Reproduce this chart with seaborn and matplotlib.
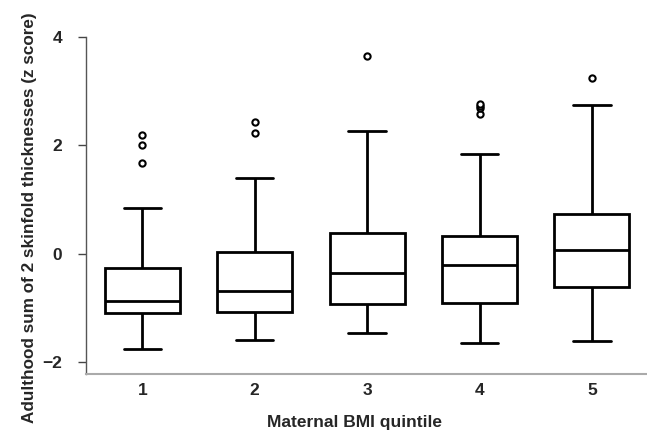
import matplotlib
matplotlib.use("Agg")
import matplotlib.pyplot as plt
import seaborn as sns
import pandas as pd

# Values (z scores)
quintiles = ["1", "2", "3", "4", "5"]
lower_whisker = [-1.76, -1.59, -1.46, -1.65, -1.61]
q1_values = [-1.10, -1.07, -0.92, -0.90, -0.62]
medians = [-0.87, -0.69, -0.36, -0.21, 0.06]
q3_values = [-0.26, 0.03, 0.38, 0.33, 0.73]
upper_whisker = [0.85, 1.40, 2.27, 1.83, 2.74]
outliers = [[1.67, 2.01, 2.19], [2.22, 2.43], [3.65], [2.57, 2.68, 2.72, 2.76], [3.24]]

# Build a dataset per quintile that reproduces these box statistics
rows = []
for i, q in enumerate(quintiles):
    vals = ([lower_whisker[i]] + [q1_values[i]] * 10 + [medians[i]] * 10
            + [q3_values[i]] * 10 + [upper_whisker[i]] + outliers[i])
    rows += [(q, v) for v in vals]
df = pd.DataFrame(rows, columns=["quintile", "z"])

sns.set_style("white")
plt.rcParams['font.family'] = ['Liberation Sans', 'DejaVu Sans']

fig = plt.figure(figsize=(6.47, 4.32), dpi=100)
ax = fig.add_axes([0.133, 0.134, 0.867, 0.781])

sns.boxplot(data=df, x="quintile", y="z", order=quintiles, ax=ax,
            color="white", width=0.667, linewidth=2.0, linecolor="black",
            whis=1.5,
            flierprops=dict(marker="o", markersize=4.5, markerfacecolor="white",
                            markeredgecolor="black", markeredgewidth=1.5),
            medianprops=dict(color="black", linewidth=2.0),
            whiskerprops=dict(color="black", linewidth=2.0),
            capprops=dict(color="black", linewidth=2.0),
            boxprops=dict(edgecolor="black", facecolor="white", linewidth=2.0))

ax.set_xlim(-0.5, 4.49)
ax.set_ylim(-2.22, 4.0)
ax.set_yticks([-2, 0, 2, 4])
ax.set_yticklabels(["\u22122", "0", "2", "4"])

for lab in ax.get_xticklabels() + ax.get_yticklabels():
    lab.set_fontweight("bold")
    lab.set_fontsize(12.5)

ax.tick_params(axis="y", which="both", left=True, length=6, width=1,
               color="#444444", pad=11)
ax.tick_params(axis="x", which="both", bottom=False, pad=3)

ax.spines["top"].set_visible(False)
ax.spines["right"].set_visible(False)
ax.spines["left"].set_color("#555555")
ax.spines["left"].set_linewidth(1.0)
ax.spines["bottom"].set_color("#aaaaaa")
ax.spines["bottom"].set_linewidth(1.5)

ax.set_xlabel("Maternal BMI quintile", fontsize=12.5, fontweight="bold")
ax.xaxis.set_label_coords(0.478, -0.122)
ax.set_ylabel("Adulthood sum of 2 skinfold thicknesses (z score)",
              fontsize=12.3, fontweight="bold")
ax.yaxis.set_label_coords(-0.088, 0.463)

fig.savefig("out.png", dpi=100)
